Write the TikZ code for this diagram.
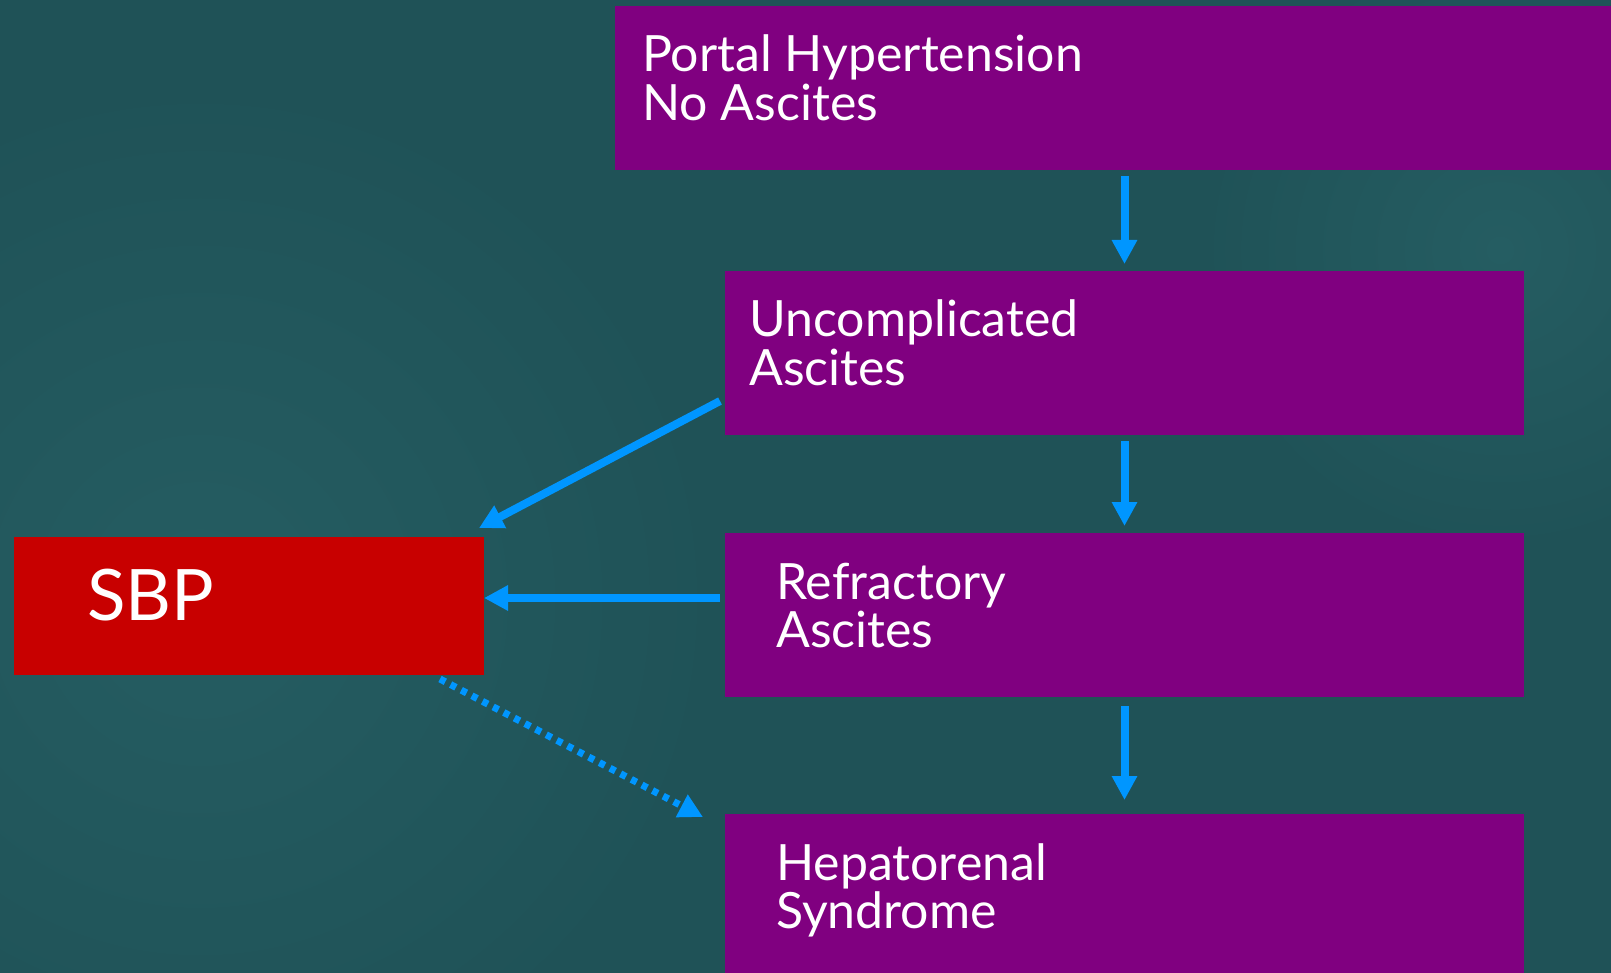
\documentclass[tikz,border=0pt]{standalone}
\usepackage{fontspec}
\setmainfont{Lato}
\usetikzlibrary{arrows.meta,calc}
\definecolor{bg}{RGB}{31,82,87}
\definecolor{bglight}{RGB}{37,93,98}
\definecolor{boxpurple}{RGB}{128,0,128}
\definecolor{boxred}{RGB}{200,0,0}
\definecolor{arrowblue}{RGB}{0,150,255}
\begin{document}
\begin{tikzpicture}[x=1pt,y=-1pt,
  stagebox/.style={fill=boxpurple,draw=none,inner sep=0pt,outer sep=0pt,anchor=north west},
  redbox/.style={fill=boxred,draw=none,inner sep=0pt,outer sep=0pt,anchor=north west},
  lbl/.style={text=white,inner sep=0pt,anchor=base west,font=\fontsize{50}{50}\selectfont},
  biglbl/.style={text=white,inner sep=0pt,anchor=base west,font=\fontsize{71}{71}\selectfont},
  flow/.style={draw=arrowblue,line width=8pt,-{Triangle[width=24pt,length=24pt]}},
  dotflow/.style={draw=arrowblue,line width=7pt,dash pattern=on 6pt off 6pt,-{Triangle[width=24pt,length=24pt]}}
]
\useasboundingbox (0,0) rectangle (1611,973);
\fill[bg] (0,0) rectangle (1611,973);
\shade[inner color=bglight,outer color=bg] (200,600) circle (520);
\shade[inner color=bglight,outer color=bg] (1500,250) circle (300);

% boxes
\node[stagebox,minimum width=996pt,minimum height=164pt] (top) at (615,6) {};
\node[stagebox,minimum width=799pt,minimum height=164pt] (unc) at (725,271) {};
\node[stagebox,minimum width=799pt,minimum height=164pt] (ref) at (725,533) {};
\node[stagebox,minimum width=799pt,minimum height=164pt] (hrs) at (725,814) {};
\node[redbox,minimum width=470pt,minimum height=138pt] (sbp) at (14,537) {};

% labels
\node[lbl] (t1a) at (642,72) {Portal Hypertension};
\node[lbl] (t1b) at (642,121) {No Ascites};
\node[lbl] (t2a) at (749,337) {Uncomplicated};
\node[lbl] (t2b) at (749,385) {Ascites};
\node[lbl] (t3a) at (776,599) {Refractory};
\node[lbl] (t3b) at (776,647) {Ascites};
\node[lbl] (t4a) at (776,880) {Hepatorenal};
\node[lbl] (t4b) at (776,928) {Syndrome};
\node[biglbl] (t5) at (87,620) {SBP};

% connectors
\draw[flow,shorten <=6pt,shorten >=7pt] (unc.north |- top.south) -- (unc.north);
\draw[flow,shorten <=6pt,shorten >=7pt] (unc.south) -- (ref.north);
\draw[flow,shorten <=9pt,shorten >=14pt] (ref.south) -- (hrs.north);
\coordinate (a1) at ($(unc.north west)+(-5,130)$);
\coordinate (a1e) at ($(sbp.north east)+(-5,-9)$);
\draw[flow] (a1) -- (a1e);
\coordinate (a2) at ($(ref.north west)+(-5,65)$);
\draw[flow] (a2) -- (sbp.east |- a2);
\coordinate (a3) at ($(sbp.south east)+(-44,4)$);
\coordinate (a3e) at ($(hrs.north west)+(-22,3)$);
\draw[dotflow] (a3) -- (a3e);
\end{tikzpicture}
\end{document}
